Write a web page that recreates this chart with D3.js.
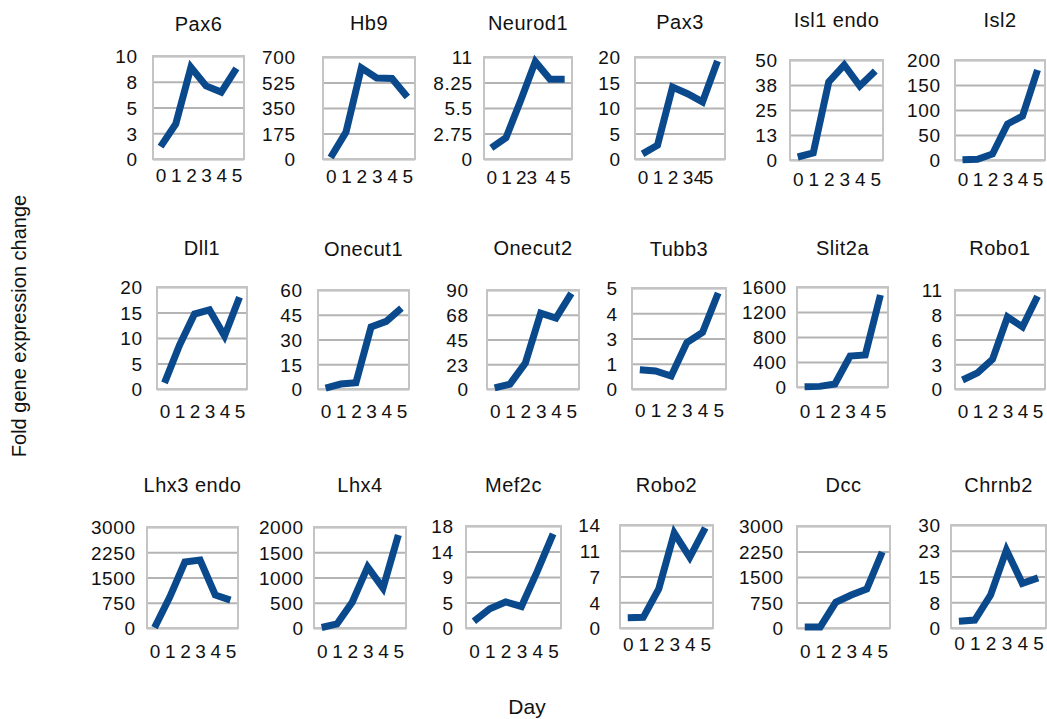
<!DOCTYPE html>
<html>
<head>
<meta charset="utf-8">
<script src="https://cdn.jsdelivr.net/npm/d3@7"></script>
<style>
  html, body { margin: 0; padding: 0; background: #fff; }
  svg { display: block; font-family: "Liberation Sans", Arial, Helvetica, sans-serif; }
</style>
</head>
<body>
<svg id="chart" width="1047" height="719"></svg>
<script>
// ---------------- DATA ----------------
const days = ["0", "1", "2", "3", "4", "5"];

const genes = [
  "Pax6", "Hb9", "Neurod1", "Pax3", "Isl1 endo", "Isl2",
  "Dll1", "Onecut1", "Onecut2", "Tubb3", "Slit2a", "Robo1",
  "Lhx3 endo", "Lhx4", "Mef2c", "Robo2", "Dcc", "Chrnb2"
];

// fold change per day (0..5)
const pax6     = [1.2, 3.4, 8.9, 7.1, 6.5, 8.8];
const hb9      = [10, 185, 625, 556, 553, 425];
const neurod1  = [1.2, 2.3, 6.3, 10.5, 8.6, 8.6];
const pax3     = [1.0, 2.7, 14.1, 12.8, 11.2, 19.2];
const isl1endo = [1.5, 3.5, 39, 47.5, 37, 44.5];
const isl2     = [0.5, 1.5, 12, 72, 88, 180];
const dll1     = [1.2, 8.6, 14.7, 15.5, 10.4, 18.0];
const onecut1  = [0.5, 3, 3.8, 37.6, 41, 49];
const onecut2  = [1, 4.5, 23.6, 69, 64.5, 87];
const tubb3    = [0.95, 0.89, 0.64, 2.3, 2.8, 4.75];
const slit2a   = [5, 10, 48, 496, 512, 1472];
const robo1    = [1.0, 1.8, 3.3, 8.0, 6.9, 10.3];
const lhx3endo = [10, 920, 1960, 2020, 980, 830];
const lhx4     = [10, 80, 515, 1210, 790, 1840];
const mef2c    = [1.2, 3.4, 4.6, 3.8, 10, 16.6];
const robo2    = [1.4, 1.45, 5.3, 12.9, 9.6, 13.6];
const dcc      = [30, 30, 755, 970, 1147, 2235];
const chrnb2   = [2, 2.3, 9.6, 22.7, 13, 14.6];

const seriesValues = [
  pax6, hb9, neurod1, pax3, isl1endo, isl2,
  dll1, onecut1, onecut2, tubb3, slit2a, robo1,
  lhx3endo, lhx4, mef2c, robo2, dcc, chrnb2
];

// y-axis maxima and tick labels (5 ticks, evenly spaced 0..max)
const yMax = [10, 700, 11, 20, 50, 200, 20, 60, 90, 5, 1600, 11, 3000, 2000, 18, 14, 3000, 30];
const yTickLabels = [
  ["0", "3", "5", "8", "10"],
  ["0", "175", "350", "525", "700"],
  ["0", "2.75", "5.5", "8.25", "11"],
  ["0", "5", "10", "15", "20"],
  ["0", "13", "25", "38", "50"],
  ["0", "50", "100", "150", "200"],
  ["0", "5", "10", "15", "20"],
  ["0", "15", "30", "45", "60"],
  ["0", "23", "45", "68", "90"],
  ["0", "1", "3", "4", "5"],
  ["0", "400", "800", "1200", "1600"],
  ["0", "3", "6", "8", "11"],
  ["0", "750", "1500", "2250", "3000"],
  ["0", "500", "1000", "1500", "2000"],
  ["0", "5", "9", "14", "18"],
  ["0", "4", "7", "11", "14"],
  ["0", "750", "1500", "2250", "3000"],
  ["0", "8", "15", "23", "30"]
];

const yTitle = "Fold gene expression change";
const xTitle = "Day";

// ---------------- LAYOUT ----------------
// plot box: [left, right, top, bottom]
const boxes = [
  [153, 244, 56, 159], [323, 415, 57, 159], [484, 572, 57, 159],
  [635, 725, 57, 159], [790, 883, 60, 160], [955, 1045, 60, 160],
  [157, 247, 287, 389], [318, 409, 290, 389], [487, 579, 290, 389],
  [632, 726, 288, 389], [797, 888, 287, 387], [955, 1045, 290, 389],
  [147, 238, 527, 628], [314, 406, 527, 628], [466, 561, 526, 628],
  [620, 713, 525, 628], [797, 890, 526, 628], [951, 1046, 525, 628]
];
const yLabelRight = [137, 295, 472, 620, 777, 940, 142, 302, 468, 617, 786, 942, 135, 303, 453, 600, 783, 940];
const xLabelCenterY = [175, 176, 177, 177, 179, 179, 411, 411, 411, 410, 411, 411, 651, 651, 651, 644, 651, 643];
const titleBaseline = [31, 30, 30, 29, 27, 27, 255, 256, 255, 256, 255, 255, 492, 492, 492, 492, 492, 492];
// small horizontal nudges of individual day labels (as crowded in the original)
const xLabelNudge = { 2: [0, 0, 0, -4, 0, 0], 3: [0, 0, 0, 0, -4, -10] };

const LINE_COLOR = "#0a4a8c";
const GRID_COLOR = "#b4b4b4";
const BOX_COLOR = "#c4c4c4";
const TEXT_COLOR = "#111";
const TICK_FONT = 19;
const TICK_SPACING = 0.6;

const svg = d3.select("#chart");

genes.forEach((gene, i) => {
  const [L, R, T, B] = boxes[i];
  const g = svg.append("g");

  const x = d3.scalePoint().domain(days).range([L, R]).padding(0.5);
  const y = d3.scaleLinear().domain([0, yMax[i]]).range([B, T]);
  const tickVals = d3.range(5).map(k => yMax[i] * k / 4);

  // grid lines
  const grid = g.append("g")
    .attr("transform", `translate(${L},0)`)
    .call(d3.axisLeft(y).tickValues(tickVals).tickSize(-(R - L)).tickFormat(""));
  grid.select(".domain").remove();
  grid.selectAll("line").attr("stroke", GRID_COLOR).attr("stroke-width", 2);

  // plot box
  g.append("rect")
    .attr("x", L).attr("y", T)
    .attr("width", R - L).attr("height", B - T)
    .attr("fill", "none")
    .attr("stroke", BOX_COLOR)
    .attr("stroke-width", 2);

  // y axis labels
  const ya = g.append("g")
    .attr("transform", `translate(${L},0)`)
    .call(d3.axisLeft(y).tickValues(tickVals).tickSize(0)
      .tickPadding(L - yLabelRight[i] - TICK_SPACING)
      .tickFormat((d, k) => yTickLabels[i][k]));
  ya.select(".domain").remove();
  ya.selectAll("text")
    .attr("font-size", TICK_FONT)
    .attr("letter-spacing", TICK_SPACING)
    .attr("font-family", null)
    .attr("fill", TEXT_COLOR)
    .attr("dy", "0.36em");

  // x axis labels
  const xa = g.append("g")
    .attr("transform", `translate(0,${B})`)
    .call(d3.axisBottom(x).tickSize(0));
  xa.select(".domain").remove();
  const nudge = xLabelNudge[i] || [0, 0, 0, 0, 0, 0];
  xa.selectAll("text")
    .attr("font-size", TICK_FONT)
    .attr("font-family", null)
    .attr("fill", TEXT_COLOR)
    .attr("x", (d, k) => nudge[k])
    .attr("y", xLabelCenterY[i] - B)
    .attr("dy", "0.36em");

  // line
  const line = d3.line()
    .x((d, k) => x(days[k]))
    .y(d => y(d));
  g.append("path")
    .datum(seriesValues[i])
    .attr("d", line)
    .attr("fill", "none")
    .attr("stroke", LINE_COLOR)
    .attr("stroke-width", 7)
    .attr("stroke-linejoin", "miter")
    .attr("stroke-linecap", "butt");

  // title
  g.append("text")
    .attr("x", (L + R) / 2)
    .attr("y", titleBaseline[i])
    .attr("text-anchor", "middle")
    .attr("font-size", 20)
    .attr("letter-spacing", 0.5)
    .attr("fill", TEXT_COLOR)
    .text(gene);
});

// axis titles
svg.append("text")
  .attr("transform", "translate(26,326) rotate(-90)")
  .attr("text-anchor", "middle")
  .attr("font-size", 20)
  .attr("fill", TEXT_COLOR)
  .text(yTitle);

svg.append("text")
  .attr("x", 527)
  .attr("y", 714)
  .attr("text-anchor", "middle")
  .attr("font-size", 21)
  .attr("fill", TEXT_COLOR)
  .text(xTitle);
</script>
</body>
</html>
